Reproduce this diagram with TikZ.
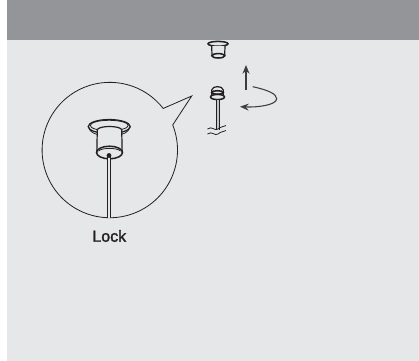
\documentclass[tikz,border=0pt]{standalone}
\usepackage{fontspec}
\setmainfont[RawFeature={embolden=1.8}]{Liberation Sans}
\usetikzlibrary{arrows.meta}
\definecolor{panel}{HTML}{E6E7E8}
\definecolor{band}{HTML}{939598}
\definecolor{ink}{HTML}{231F20}
\tikzset{
  thinline/.style={draw=ink,line width=0.6pt},
  midline/.style={draw=ink,line width=0.9pt},
  heavy/.style={draw=ink,line width=1.15pt},
  arrowline/.style={draw=ink!85!panel,line width=0.8pt,-{Stealth[length=6.5pt,width=5.2pt]}},
  labeltext/.style={font=\fontsize{12pt}{13pt}\selectfont,text=ink,inner sep=0pt}
}
\begin{document}
\begin{tikzpicture}[x=.75pt,y=.75pt,yscale=-1]
\useasboundingbox (0,0) rectangle (419,361);
\fill[white] (0,0) rectangle (419,361);
\fill[panel] (7,0) rectangle (419,361);
\fill[band] (7,0) rectangle (419,40);
% balloon
\draw[thinline,line join=miter] (172.7,125) arc[start angle=-21.7,end angle=322.1,radius=67.7] -- (191.7,96) -- cycle;
% large fixture
\draw[midline] (109.2,126.5) ellipse [x radius=21,y radius=7];
\draw[thinline] (109.2,125.5) ellipse [x radius=19,y radius=5.2];
\draw[thinline] (88.2,127) .. controls (90,133) and (97,134.5) .. (98,134.5);
\draw[thinline] (130.2,127) .. controls (128.4,133) and (121.4,134.5) .. (120.4,134.5);
\fill[panel] (97.5,129) .. controls (100,125.5) and (118,125.5) .. (121.5,129) -- (122.5,152) -- (96.5,152) -- cycle;
\draw[midline] (97.3,129.5) .. controls (100,125.5) and (119,125.5) .. (121.7,129.5);
\draw[midline] (97.3,129.5) -- (96.8,153);
\draw[midline] (121.7,129.5) -- (122.2,153);
\draw[heavy] (109.5,152.5) ellipse [x radius=13,y radius=6.3];
\draw[thinline] (98.5,151) .. controls (102,147.5) and (117,147.5) .. (120.5,151);
\fill[panel] (107.5,157) rectangle (110.7,218);
\draw[midline] (107.3,156) -- (107.3,218);
\draw[midline] (110.7,156) -- (110.7,218);
\fill[ink] (109,155.5) circle [radius=2.4];
\node[labeltext] (locklabel) at (109.3,236) {Lock};
% ceiling cup
\draw[heavy] (218,43.8) ellipse [x radius=10,y radius=2.4];
\fill[panel] (212,45.5) rectangle (224.8,56);
\draw[midline] (211.7,45.5) -- (212,56);
\draw[midline] (225,45.5) -- (224.7,56);
\draw[heavy] (218.3,55.8) ellipse [x radius=6.4,y radius=2.2];
% stem fixture
\draw[midline] (211.8,95) -- (211.8,90) .. controls (212,85.5) and (223,85.5) .. (223.3,90) -- (223.3,95);
\draw[heavy] (217.5,92.5) ellipse [x radius=5.7,y radius=1.8];
\draw[heavy] (217.5,97) ellipse [x radius=7,y radius=2.6];
\fill[ink] (216,99) rectangle (220,130);
\fill[panel!60!band] (217.3,100) rectangle (218.7,130);
\draw[thinline] (207.5,129) .. controls (212,125.5) and (215,131.5) .. (218,129) .. controls (221,126.5) and (223,127) .. (226,125.5);
\draw[thinline] (207.5,134) .. controls (212,130.5) and (215,136.5) .. (218,134) .. controls (221,131.5) and (223,132) .. (226,130.5);
% arrows
\coordinate (upstart) at (246,90);
\coordinate (uptip) at (246,65);
\draw[arrowline] (upstart) -- (uptip);
\coordinate (turnstart) at (252.7,86.7);
\coordinate (turntip) at (240,106.7);
\draw[arrowline] (turnstart) .. controls (268,90) and (277,94) .. (276.7,99) .. controls (276,105) and (258,107.5) .. (turntip);
\end{tikzpicture}
\end{document}
